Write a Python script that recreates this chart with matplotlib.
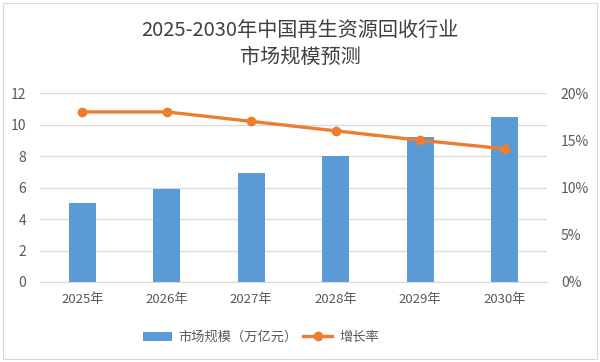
import numpy as np
import matplotlib.pyplot as plt
from matplotlib.ticker import PercentFormatter

plt.rcParams['font.family'] = ['Noto Sans CJK SC', 'DejaVu Sans']

years = ['2025年', '2026年', '2027年', '2028年', '2029年', '2030年']
market_size = [5.0, 5.9, 6.9, 8.0, 9.2, 10.5]   # 万亿元
growth_rate = [18.0, 18.0, 17.0, 16.0, 15.0, 14.1]  # %

bar_color = '#5B9BD5'
line_color = '#ED7D31'
text_color = '#595959'

fig = plt.figure(figsize=(6, 3.62), dpi=100)
ax = fig.add_axes([0.0667, 0.221, 0.845, 0.522])
ax2 = ax.twinx()

x = np.arange(len(years))
bars = ax.bar(x, market_size, width=0.32, color=bar_color, zorder=2,
              label='市场规模（万亿元）')
line, = ax2.plot(x, growth_rate, color=line_color, lw=2.4, marker='o',
                 markersize=6, zorder=3, label='增长率')

ax.set_xlim(-0.5, len(years) - 0.5)
ax.set_ylim(0, 12)
ax.set_yticks(range(0, 13, 2))
ax2.set_ylim(0, 20)
ax2.set_yticks(range(0, 21, 5))
ax2.yaxis.set_major_formatter(PercentFormatter(decimals=0))

ax.set_xticks(x)
ax.set_xticklabels(years)
ax.grid(axis='y', color='#D9D9D9', lw=0.9, zorder=0)
ax.set_axisbelow(True)

for a in (ax, ax2):
    for s in a.spines.values():
        s.set_visible(False)
    a.tick_params(length=0, colors=text_color, labelsize=10)
ax.spines['bottom'].set_visible(True)
ax.spines['bottom'].set_color('#D9D9D9')
ax.tick_params(axis='x', pad=8, labelsize=9.5)
ax.tick_params(axis='y', pad=10)
ax2.tick_params(axis='y', pad=10)

fig.text(0.5, 0.912, '2025-2030年中国再生资源回收行业', ha='center', va='center',
         fontsize=14.5, color='#404040')
fig.text(0.5, 0.84, '市场规模预测', ha='center', va='center',
         fontsize=14.5, color='#404040')

fig.legend(handles=[bars, line], loc='center', bbox_to_anchor=(0.435, 0.068),
           ncol=2, frameon=False, fontsize=9.5, labelcolor=text_color,
           handlelength=2.2, columnspacing=0.4, handletextpad=0.5)

# outer chart border
fig.patches.append(plt.Rectangle((0.005, 0.008), 0.99, 0.984, transform=fig.transFigure,
                                 fill=False, edgecolor='#D9D9D9', lw=0.8))

plt.savefig('out.png', dpi=100)
